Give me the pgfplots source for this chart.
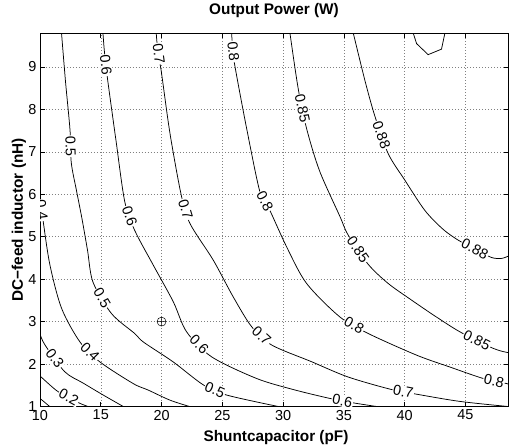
\documentclass[border=0pt]{standalone}
\usepackage{pgfplots}
\pgfplotsset{compat=1.18}
\usepackage{fontspec}
\setmainfont{Liberation Sans}
% contour label: invisible 2-point plot along the line, text sloped on it
\newcommand{\clab}[3]{\addplot[draw=none] coordinates {#1 #2}
  node[pos=0.5, sloped, fill=white, inner sep=0.8pt, font=\fontsize{14.5}{16}\selectfont] {#3};}
\begin{document}
\begin{tikzpicture}
\useasboundingbox (-40bp,-38.5bp) rectangle (470bp,406.5bp);
\begin{axis}[
  at={(0,0)}, anchor=south west,
  scale only axis, width=468bp, height=373.5bp,
  xmin=10, xmax=48.5, ymin=1, ymax=9.8,
  xtick={10,15,...,45}, ytick={1,...,9},
  grid=major,
  grid style={black!50, dash pattern=on 0.7pt off 2.3pt, line width=0.5pt},
  tick align=inside, major tick length=4.5bp,
  tick style={black, line width=0.6pt},
  axis line style={line width=0.9pt},
  /pgf/number format/assume math mode=true,
  ticklabel style={font=\fontsize{14.5}{16}\selectfont},
  title={Output Power (W)},
  title style={font=\fontsize{15.4}{18}\selectfont\bfseries,
    at={([yshift=13bp]axis description cs:0.5,1)}, anchor=base},
  xlabel={Shuntcapacitor (pF)},
  xlabel style={font=\fontsize{15.4}{18}\selectfont\bfseries,
    at={([yshift=-34.5bp,xshift=2bp]axis description cs:0.5,0)}, anchor=base},
  ylabel={DC−feed inductor (nH)},
  ylabel style={font=\fontsize{15.4}{18}\selectfont\bfseries,
    at={([xshift=-17bp]axis description cs:0,0.5)}, anchor=base},
]
% contour lines
\addplot[black, line width=0.75pt] coordinates {(10,1.19) (10.8,1.0)};
\addplot[black, line width=0.75pt, smooth] coordinates {(10,1.72) (11.34,1.38) (12.4,1.2) (13.4,1.06) (13.95,1.0)};
\addplot[black, line width=0.75pt, smooth] coordinates {(10,2.71) (10.41,2.45) (12.03,1.82) (13.56,1.55) (15.2,1.27) (16.85,1.0)};
\addplot[black, line width=0.75pt, smooth] coordinates {(10,5.95) (10.27,5.35) (10.82,4.33) (11.78,3.31) (13.29,2.52) (14.93,2.05) (17.67,1.54) (18.88,1.39) (20.69,1.15) (22.3,1.0)};
\addplot[black, line width=0.75pt, smooth] coordinates {(11.77,9.8) (12.1,8.65) (12.47,7.51) (12.57,6.75) (13.0,6.09) (13.45,5.43) (13.91,4.68) (14.36,3.93) (15.88,3.19) (17.79,2.72) (18.5,2.52) (20.96,2.05) (23.43,1.51) (25.35,1.27) (29.6,1.0)};
\addplot[black, line width=0.75pt, smooth] coordinates {(15.18,9.8) (15.3,9.36) (15.55,8.73) (16.25,7.27) (16.97,5.83) (17.79,5.15) (19.32,4.33) (20.96,3.47) (22.06,2.76) (24.12,2.17) (27.82,1.66) (30.83,1.40) (33.85,1.19) (35.9,1.08) (37.69,1.0)};
\addplot[black, line width=0.75pt, smooth] coordinates {(19.56,9.8) (19.70,9.35) (19.98,8.89) (20.69,7.44) (21.62,5.98) (22.34,5.31) (24.25,4.45) (25.9,3.58) (27.41,2.88) (29.05,2.45) (32.3,2.06) (35.3,1.7) (38.78,1.41) (40.98,1.29) (44.54,1.12) (48.5,1.0)};
\addplot[black, line width=0.75pt, smooth] coordinates {(25.76,9.8) (25.87,9.39) (26.04,9.01) (27.0,7.55) (28.09,6.06) (28.91,5.62) (30.29,4.76) (31.93,3.90) (34.67,3.11) (37.0,2.72) (40.98,2.21) (43.72,1.93) (46.46,1.66) (48.24,1.55) (48.5,1.53)};
\addplot[black, line width=0.75pt, smooth] coordinates {(30.56,9.8) (31.24,8.49) (31.93,7.55) (33.0,6.55) (34.67,5.48) (35.35,5.04) (37.0,4.35) (38.64,3.90) (40.5,3.52) (42.5,3.13) (44.6,2.75) (47.28,2.37) (48.5,2.27)};
\addplot[black, line width=0.75pt, smooth] coordinates {(35.77,9.8) (36.73,8.68) (37.55,7.84) (38.64,6.96) (40.02,6.33) (41.66,5.62) (43.14,5.18) (44.40,4.92) (45.77,4.71) (47.15,4.51) (47.97,4.49) (48.5,4.54)};
\addplot[black, line width=0.75pt] coordinates {(40.70,9.8) (40.98,9.55) (41.93,9.29) (43.03,9.42) (43.31,9.8)};
% labels
\clab{(11.34,1.38)}{(13.4,1.06)}{0.2}
\clab{(10.41,2.45)}{(12.03,1.82)}{0.3}
\clab{(10.02,5.9)}{(10.27,5.35)}{0.4}
\clab{(13.29,2.52)}{(14.93,2.05)}{0.4}
\clab{(12.47,7.51)}{(12.57,6.75)}{0.5}
\clab{(14.36,3.93)}{(15.88,3.19)}{0.5}
\clab{(23.43,1.51)}{(25.35,1.27)}{0.5}
\clab{(15.3,9.36)}{(15.55,8.73)}{0.6}
\clab{(16.97,5.83)}{(17.79,5.15)}{0.6}
\clab{(22.06,2.76)}{(24.12,2.17)}{0.6}
\clab{(33.85,1.19)}{(35.9,1.08)}{0.6}
\clab{(19.58,9.74)}{(19.98,8.89)}{0.7}
\clab{(21.62,5.98)}{(22.34,5.31)}{0.7}
\clab{(27.41,2.88)}{(29.05,2.45)}{0.7}
\clab{(38.78,1.41)}{(40.98,1.29)}{0.7}
\clab{(25.78,9.72)}{(26.04,9.01)}{0.8}
\clab{(28.09,6.06)}{(28.91,5.62)}{0.8}
\clab{(34.67,3.11)}{(37.0,2.72)}{0.8}
\clab{(46.46,1.66)}{(48.24,1.55)}{0.8}
\clab{(31.24,8.49)}{(31.93,7.55)}{0.85}
\clab{(35.35,5.04)}{(37.0,4.35)}{0.85}
\clab{(44.6,2.75)}{(47.28,2.37)}{0.85}
\clab{(37.55,7.84)}{(38.64,6.96)}{0.88}
\clab{(44.40,4.92)}{(47.15,4.51)}{0.88}
% design point
\addplot[only marks, mark=oplus, mark size=4.5pt, mark options={line width=0.5pt, black}] coordinates {(20,3)};
\end{axis}
\end{tikzpicture}
\end{document}
